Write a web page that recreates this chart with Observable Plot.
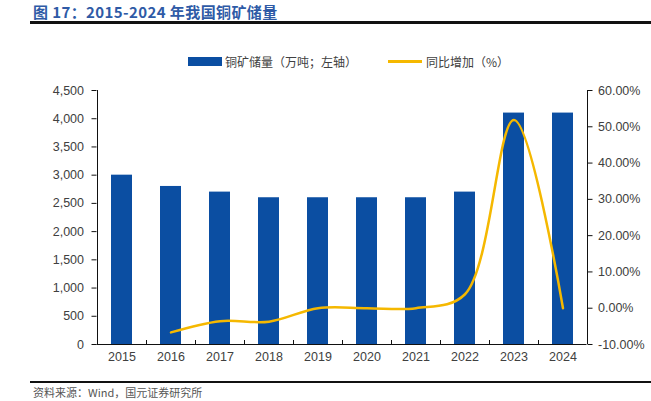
<!DOCTYPE html>
<html>
<head>
<meta charset="utf-8">
<script src="https://cdn.jsdelivr.net/npm/d3@7"></script>
<script src="https://cdn.jsdelivr.net/npm/@observablehq/plot@0.6"></script>
<style>
  body { margin: 0; background: #fff; }
  #wrap { position: relative; width: 651px; height: 401px; overflow: hidden; background: #fff; font-family: "Liberation Sans", Arial, sans-serif; }
  #title { position: absolute; left: 33px; top: 1px; font-family: "Noto Sans CJK SC", sans-serif; font-weight: bold; font-size: 15px; color: #2e5aa6; white-space: nowrap; letter-spacing: 0.4px; }
  #topline { position: absolute; left: 30px; top: 21px; width: 621px; height: 3px; background: #111; }
  #chart { position: absolute; left: 0; top: 30px; }
  #legend { position: absolute; top: 52px; left: 0; width: 651px; height: 18px; z-index: 2; font-family: "Noto Sans CJK SC", sans-serif; font-size: 12px; color: #404040; }
  .lg { position: absolute; top: 0; display: flex; align-items: center; height: 18px; white-space: nowrap; }
  #botline { position: absolute; left: 30px; top: 381px; width: 621px; height: 2px; background: #111; }
  #source { position: absolute; left: 33px; top: 385px; font-family: "Noto Sans CJK SC", sans-serif; font-size: 11px; line-height: 14px; color: #555; white-space: nowrap; }
</style>
</head>
<body>
<div id="wrap">
  <div id="title">图 17：2015-2024 年我国铜矿储量</div>
  <div id="topline"></div>
  <div id="chart"></div>
  <div id="legend">
    <div class="lg" style="left:188px"><span style="display:inline-block;width:34px;height:9px;background:#0b4ea2;margin-right:3px"></span>铜矿储量（万吨；左轴）</div>
    <div class="lg" style="left:388px"><span style="display:inline-block;width:34px;height:3px;background:#f5b800;margin-right:4px"></span>同比增加（%）</div>
  </div>
  <div id="botline"></div>
  <div id="source">资料来源：Wind，国元证券研究所</div>
</div>
<script>
const years = [2015, 2016, 2017, 2018, 2019, 2020, 2021, 2022, 2023, 2024];
const reserves = [3000, 2800, 2700, 2600, 2600, 2600, 2600, 2700, 4100, 4100];
const growthYears = [2016, 2017, 2018, 2019, 2020, 2021, 2022, 2023, 2024];
const growth = [-6.67, -3.57, -3.70, 0, 0, 0, 3.85, 51.85, 0];
const leftTicks = [0, 500, 1000, 1500, 2000, 2500, 3000, 3500, 4000, 4500];
const rightTicks = [-10, 0, 10, 20, 30, 40, 50, 60];

const leftMax = 4500, rMin = -10, rMax = 60;
const toLeft = p => (p - rMin) / (rMax - rMin) * leftMax;
const fromLeft = v => v / leftMax * (rMax - rMin) + rMin;

const barData = years.map((y, i) => ({year: y, value: reserves[i]}));
const lineData = growthYears.map((y, i) => ({year: y, g: growth[i]}));

const W = 651, mL = 96.5, mR = 64.5;
const step = (W - mL - mR) / years.length;

const chart = Plot.plot({
  width: W,
  height: 340,
  marginTop: 60,
  marginBottom: 26,
  marginLeft: mL,
  marginRight: mR,
  style: {fontFamily: "'Liberation Sans', Arial, sans-serif", fontSize: "12.5px", background: "white"},
  x: {type: "band", domain: years, paddingInner: 0.58, paddingOuter: 0.29, label: null},
  y: {domain: [0, leftMax], label: null},
  marks: [
    Plot.barY(barData, {x: "year", y: "value", fill: "#0b4ea2"}),
    Plot.line(lineData, {x: "year", y: d => toLeft(d.g), stroke: "#f5b800", strokeWidth: 2.5, curve: "catmull-rom"}),
    Plot.ruleY([0], {stroke: "#111"}),
    Plot.ruleX([years[0]], {dx: -step / 2, stroke: "#111"}),
    Plot.ruleX([years[years.length - 1]], {dx: step / 2, stroke: "#111"}),
    Plot.axisY({anchor: "left", ticks: leftTicks, tickFormat: d3.format(","), tickSize: 5, tickPadding: 8, stroke: "#111", fill: "#404040", label: null}),
    Plot.axisY({anchor: "right", ticks: rightTicks.map(toLeft), tickFormat: v => fromLeft(v).toFixed(2) + "%", tickSize: 5, tickPadding: 6, stroke: "#111", fill: "#404040", label: null}),
    Plot.axisX({ticks: years.slice(0, -1), tickSize: -4, tickFormat: () => "", dx: step / 2, stroke: "#111", label: null}),
    Plot.axisX({tickSize: 0, tickPadding: 8, tickFormat: d => String(d), fill: "#404040", label: null})
  ]
});
document.getElementById("chart").appendChild(chart);
</script>
</body>
</html>
